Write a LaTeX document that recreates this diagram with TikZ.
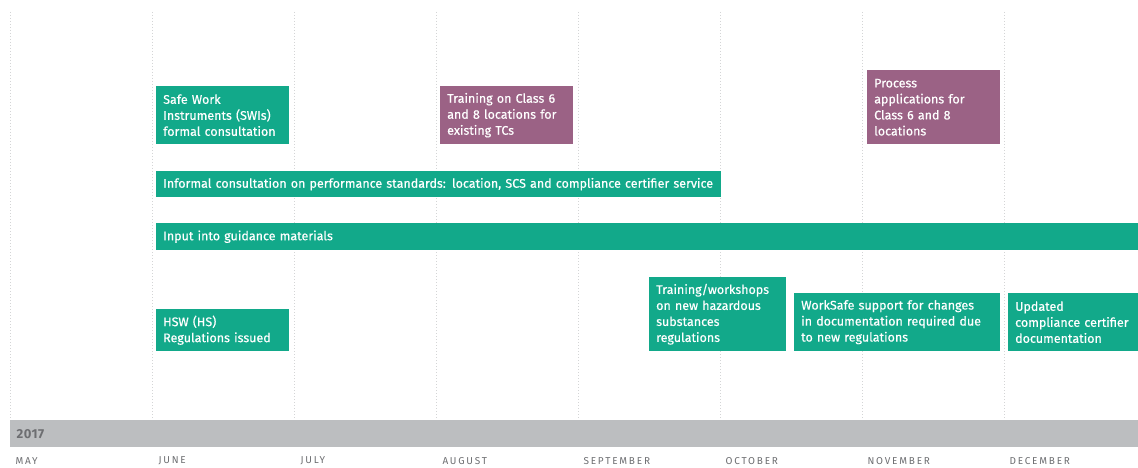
\documentclass[tikz,border=0pt]{standalone}
\usepackage{fontspec}
\setmainfont{Fira Sans}
\newfontfamily\boxfont[FakeBold=0.4]{Fira Sans}
\definecolor{teal}{HTML}{12A98A}
\definecolor{plum}{HTML}{9B6285}
\definecolor{barGray}{HTML}{BCBEC0}
\definecolor{labGray}{HTML}{6D6E71}
\definecolor{gridGray}{HTML}{D4D5D6}
\tikzset{
  gridline/.style={draw=gridGray, line width=0.9pt, dash pattern=on 1pt off 2pt},
  taskbox/.style={fill=#1, text=white, anchor=north west, align=left,
    inner xsep=7pt, inner ysep=0pt, font=\boxfont\fontsize{12.5}{16}\selectfont},
  month/.style={anchor=west, text=labGray, font=\fontsize{10}{12}\selectfont\addfontfeature{LetterSpace=18}},
}
% \taskbox{name}{x}{y}{width}{height}{colour}{text}
\newcommand{\taskbox}[7]{%
  \node[taskbox=#6, text width=#4pt-14pt, minimum height=#5pt] (#1) at (#2,#3) {#7};}
\begin{document}
\begin{tikzpicture}[x=1pt,y=-1pt]
\useasboundingbox (0,0) rectangle (1138,468);
% month grid
\foreach \gx in {10,152,294,436,578,720,862,1004}
  \draw[gridline] (\gx,12) -- (\gx,420);
% tasks
\taskbox{swi}{156}{86}{133}{58}{teal}{Safe Work\\Instruments (SWIs)\\formal consultation}
\taskbox{trainTC}{440}{86}{133}{58}{plum}{Training on Class 6\\and 8 locations for\\existing TCs}
\taskbox{process}{867}{70}{133}{74}{plum}{Process\\applications for\\Class 6 and 8\\locations}
\taskbox{informal}{156}{171}{565}{26}{teal}{Informal consultation on performance standards: location, SCS and compliance certifier service}
\taskbox{input}{156}{223}{982}{27}{teal}{Input into guidance materials}
\taskbox{hsw}{156}{309}{133}{42}{teal}{HSW (HS)\\Regulations issued}
\taskbox{workshops}{649}{277}{137}{74}{teal}{Training/workshops\\on new hazardous\\substances\\regulations}
\taskbox{worksafe}{794}{293}{206}{58}{teal}{WorkSafe support for changes\\in documentation required due\\to new regulations}
\taskbox{updated}{1008}{293}{130}{58}{teal}{Updated\\compliance certifier\\documentation}
% year bar
\fill[barGray] (10,420) rectangle (1138,447);
\node[anchor=west, text=labGray, font=\bfseries\fontsize{13}{15}\selectfont\addfontfeature{LetterSpace=4}] (year) at (13,434.5) {2017};
% month labels
\node[month] (may) at (12,461) {MAY};
\node[month] (jun) at (155,461) {JUNE};
\node[month] (jul) at (297,461) {JULY};
\node[month] (aug) at (439,461) {AUGUST};
\node[month] (sep) at (580,461) {SEPTEMBER};
\node[month] (oct) at (722,461) {OCTOBER};
\node[month] (nov) at (864,461) {NOVEMBER};
\node[month] (dec) at (1006,461) {DECEMBER};
\end{tikzpicture}
\end{document}
